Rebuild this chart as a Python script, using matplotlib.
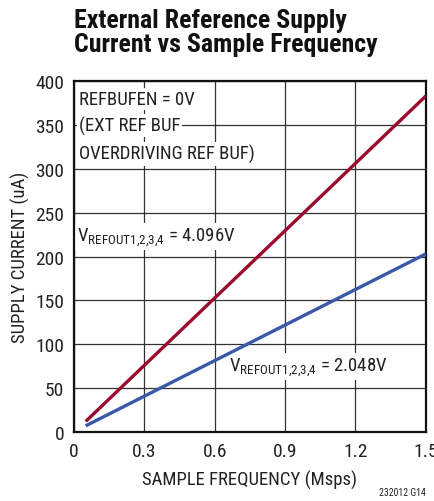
import numpy as np
import matplotlib.pyplot as plt
from matplotlib import font_manager

# sample frequency (Msps) and supply current (uA)
freq = [0.05, 1.5]
i_4096 = [12, 383]
i_2048 = [7, 203]

xticks = [0, 0.3, 0.6, 0.9, 1.2, 1.5]
xticklabels = ["0", "0.3", "0.6", "0.9", "1.2", "1.5"]
yticks = [0, 50, 100, 150, 200, 250, 300, 350, 400]

# pick a narrow sans if one is around
fonts = font_manager.fontManager.ttflist
names = {f.name for f in fonts}
fam = 'DejaVu Sans'
stretch = 'normal'
for cand in ['Liberation Sans Narrow', 'Roboto Condensed', 'Open Sans Condensed', 'Noto Sans Condensed']:
    if cand in names:
        fam = cand
        break
else:
    if any(f.name == 'DejaVu Sans' and f.stretch == 'condensed' for f in fonts):
        stretch = 'condensed'

plt.rcParams['font.family'] = [fam, 'DejaVu Sans']
plt.rcParams['font.stretch'] = stretch
plt.rcParams['mathtext.fontset'] = 'custom'
plt.rcParams['mathtext.rm'] = fam

fs = 13.5
tc = '#222222'

fig = plt.figure(figsize=(4.35, 5.02), dpi=100)
ax = fig.add_axes([0.170, 0.1375, 0.809, 0.699])

ax.plot(freq, i_4096, color='#9b0a2e', lw=2.4, solid_capstyle='butt', zorder=3)
ax.plot(freq, i_2048, color='#3a58a8', lw=2.4, solid_capstyle='butt', zorder=3)

ax.set_xlim(0, 1.5)
ax.set_ylim(0, 400)
ax.set_xticks(xticks)
ax.set_xticklabels(xticklabels)
ax.set_yticks(yticks)
ax.tick_params(length=0, labelsize=14, colors=tc)
ax.tick_params(axis='y', pad=7)
ax.tick_params(axis='x', pad=7)
ax.grid(True, color='#333333', lw=0.9)
ax.set_axisbelow(True)
for s in ax.spines.values():
    s.set_linewidth(1.6)
    s.set_color('#111111')

ax.set_xlabel("SAMPLE FREQUENCY (Msps)", fontsize=fs, color=tc, labelpad=7)
ax.set_ylabel("SUPPLY CURRENT (uA)", fontsize=fs, color=tc, labelpad=4)

box = dict(facecolor='white', edgecolor='none', pad=1.5)
ax.text(0.02, 380, "REFBUFEN = 0V", fontsize=fs, color=tc, va='center', bbox=box, zorder=2)
ax.text(0.02, 349, "(EXT REF BUF", fontsize=fs, color=tc, va='center', bbox=box, zorder=2)
ax.text(0.02, 317, "OVERDRIVING REF BUF)", fontsize=fs, color=tc, va='center', bbox=box, zorder=2)
ax.text(0.015, 223, r"V$_{\mathregular{REFOUT1{,}2{,}3{,}4}}$ = 4.096V", fontsize=fs, color=tc,
        va='center', bbox=box, zorder=2)
ax.text(0.66, 75, r"V$_{\mathregular{REFOUT1{,}2{,}3{,}4}}$ = 2.048V", fontsize=fs, color=tc,
        va='center', bbox=box, zorder=2)

fig.text(0.170, 0.982, "External Reference Supply\nCurrent vs Sample Frequency",
         fontsize=18.6, fontweight='bold', va='top', ha='left', linespacing=1.0, color='#111111')
fig.text(0.979, 0.008, "232012 G14", fontsize=7, ha='right', va='bottom', color=tc)

fig.savefig("out.png", dpi=100)
